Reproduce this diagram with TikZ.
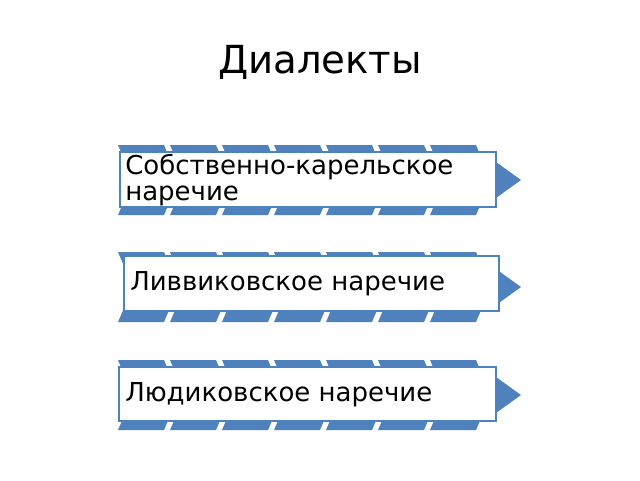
\documentclass[tikz,border=0pt]{standalone}
\usepackage{fontspec}
\setmainfont{DejaVu Sans}
\definecolor{cblue}{RGB}{79,129,189}
\tikzset{chev/.style = {fill=cblue},
  tbox/.style = {draw=cblue, fill=white, line width=1pt, inner sep=3pt, anchor=north west, align=left, text depth=0pt, font=\fontsize{19.5}{19}\selectfont}}
\newcommand{\chevrow}[1]{%
  \foreach \i in {0,...,6} {
    \fill [chev] ({118+52*\i},#1) -- ++(46,0) -- ++(15,35) -- ++(-15,35) -- ++(-46,0) -- ++(15,-35) -- cycle;
  }
  \fill [chev] (496,{#1+17}) -- (521,{#1+35}) -- (496,{#1+53}) -- cycle;
}
\begin{document}
\begin{tikzpicture}[x=0.75pt,y=-0.75pt]
  \useasboundingbox (0,0) rectangle (640,480);
  \node (title) at (320,62) {\fontsize{29}{32}\selectfont Диалекты};
  \chevrow{145}
  \chevrow{252}
  \chevrow{360}
  \draw [draw=cblue, fill=white, line width=1pt] (120,152) rectangle (496,207);
  \draw [draw=cblue, fill=white, line width=1pt] (124,256) rectangle (499,311);
  \draw [draw=cblue, fill=white, line width=1pt] (119,367) rectangle (496,421);
  \node [anchor=west, align=left, font=\fontsize{19.5}{19.5}\selectfont, inner sep=0pt] (sob) at (125,180) {Собственно-карельское\\наречие};
  \node [anchor=west, font=\fontsize{19.5}{19.5}\selectfont, inner sep=0pt] (liv) at (130,284) {Ливвиковское наречие};
  \node [anchor=west, font=\fontsize{19.5}{19.5}\selectfont, inner sep=0pt] (lud) at (125,395) {Людиковское наречие};
\end{tikzpicture}
\end{document}
